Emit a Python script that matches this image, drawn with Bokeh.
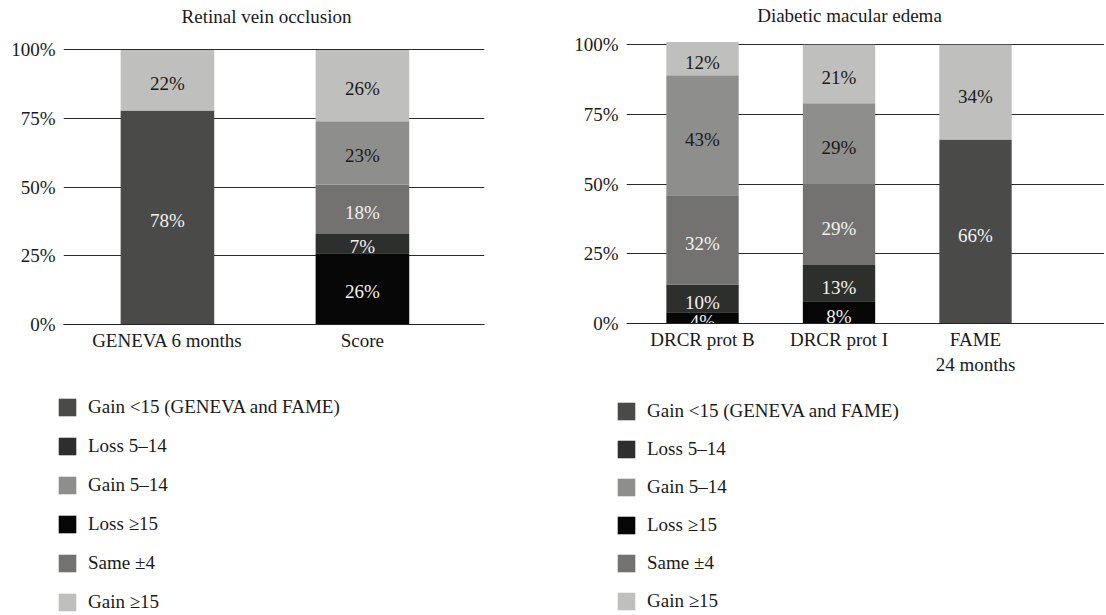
from bokeh.plotting import figure
from bokeh.models import (Range1d, FixedTicker, PrintfTickFormatter, Legend,
                          LegendItem, ColumnDataSource)
from bokeh.layouts import row, column
from bokeh.embed import file_html
from bokeh.resources import INLINE
from bokeh.core.properties import value

FONT = "Liberation Serif"
TEXT = "#1a1a1a"

# ---------------- data ----------------
rvo_title = "Retinal vein occlusion"
rvo_categories = ["GENEVA 6 months", "Score"]
rvo_loss_ge15 = [0, 26]
rvo_loss_5_14 = [0, 7]
rvo_gain_lt15 = [78, 0]
rvo_same = [0, 18]
rvo_gain_5_14 = [0, 23]
rvo_gain_ge15 = [22, 26]

dme_title = "Diabetic macular edema"
dme_categories = ["DRCR prot B", "DRCR prot I", "FAME\n24 months"]
dme_loss_ge15 = [4, 8, 0]
dme_loss_5_14 = [10, 13, 0]
dme_gain_lt15 = [0, 0, 66]
dme_same = [32, 29, 0]
dme_gain_5_14 = [43, 29, 0]
dme_gain_ge15 = [12, 21, 34]

y_ticks = [0, 25, 50, 75, 100]

# series names
S_GAIN_LT15 = "Gain <15 (GENEVA and FAME)"
S_LOSS_5_14 = "Loss 5–14"
S_GAIN_5_14 = "Gain 5–14"
S_LOSS_GE15 = "Loss ≥15"
S_SAME = "Same ±4"
S_GAIN_GE15 = "Gain ≥15"

legend_order = [S_GAIN_LT15, S_LOSS_5_14, S_GAIN_5_14, S_LOSS_GE15, S_SAME, S_GAIN_GE15]
stack_order = [S_LOSS_GE15, S_LOSS_5_14, S_GAIN_LT15, S_SAME, S_GAIN_5_14, S_GAIN_GE15]

colors = {
    S_GAIN_LT15: "#4a4b49",
    S_LOSS_5_14: "#2d2f2c",
    S_GAIN_5_14: "#8e8e8c",
    S_LOSS_GE15: "#060606",
    S_SAME: "#737270",
    S_GAIN_GE15: "#bfbfbd",
}
label_colors = {
    S_GAIN_LT15: "#f2f2f2",
    S_LOSS_5_14: "#f2f2f2",
    S_GAIN_5_14: TEXT,
    S_LOSS_GE15: "#f2f2f2",
    S_SAME: "#f2f2f2",
    S_GAIN_GE15: TEXT,
}

rvo_values = {S_LOSS_GE15: rvo_loss_ge15, S_LOSS_5_14: rvo_loss_5_14,
              S_GAIN_LT15: rvo_gain_lt15, S_SAME: rvo_same,
              S_GAIN_5_14: rvo_gain_5_14, S_GAIN_GE15: rvo_gain_ge15}
dme_values = {S_LOSS_GE15: dme_loss_ge15, S_LOSS_5_14: dme_loss_5_14,
              S_GAIN_LT15: dme_gain_lt15, S_SAME: dme_same,
              S_GAIN_5_14: dme_gain_5_14, S_GAIN_GE15: dme_gain_ge15}


def blank_fig(width, height, **borders):
    f = figure(width=width, height=height, x_range=Range1d(0, width),
               y_range=Range1d(0, 1), x_axis_type=None, y_axis_type=None,
               output_backend="svg", toolbar_location=None,
               min_border_left=borders.get("left", 0),
               min_border_right=borders.get("right", 0),
               min_border_top=borders.get("top", 0),
               min_border_bottom=borders.get("bottom", 0))
    f.frame_align = False
    f.outline_line_color = None
    f.background_fill_color = None
    f.border_fill_color = None
    return f


def title_fig(text, width, height, center):
    f = blank_fig(width, height)
    f.text(x=[center], y=[0.5], text=[text], text_font=value(FONT),
           text_font_size="19px", text_color=TEXT, text_align="center",
           text_baseline="middle")
    return f


def chart_fig(cats, vals, x_range, y_end, bar_w, width, height,
              b_left, b_right, b_top, b_bottom, label_dy):
    n = len(cats)
    xs = list(range(1, n + 1))
    p = figure(width=width, height=height,
               x_range=Range1d(*x_range), y_range=Range1d(0, y_end),
               output_backend="svg", toolbar_location=None,
               min_border_left=b_left, min_border_right=b_right,
               min_border_top=b_top, min_border_bottom=b_bottom)
    p.outline_line_color = None
    p.border_fill_color = None

    bottoms = [0] * n
    lx, ly, lt, lc = [], [], [], []
    for key in stack_order:
        v = vals[key]
        tops = [b + x for b, x in zip(bottoms, v)]
        src = ColumnDataSource(dict(x=xs, bottom=bottoms, top=tops))
        p.vbar(x="x", bottom="bottom", top="top", width=bar_w, source=src,
               fill_color=colors[key], line_color=None)
        for i in range(n):
            if v[i] > 0:
                lx.append(xs[i])
                ly.append(bottoms[i] + v[i] / 2)
                lt.append(f"{v[i]}%")
                lc.append(label_colors[key])
        bottoms = tops

    p.text(x=lx, y=ly, text=lt, text_color=lc, text_font=value(FONT),
           text_font_size="19px", text_align="center", text_baseline="middle",
           y_offset=label_dy)

    p.xaxis.ticker = FixedTicker(ticks=xs)
    p.xaxis.major_label_overrides = {x: c for x, c in zip(xs, cats)}
    p.xaxis.major_tick_line_color = None
    p.xaxis.major_tick_out = 0
    p.xaxis.major_tick_in = 0
    p.xaxis.minor_tick_line_color = None
    p.xaxis.axis_line_color = "#222222"
    p.xaxis.axis_line_width = 1.2
    p.xaxis.major_label_text_font = FONT
    p.xaxis.major_label_text_font_size = "19px"
    p.xaxis.major_label_text_color = TEXT
    p.xaxis.major_label_standoff = 5

    p.yaxis.ticker = FixedTicker(ticks=y_ticks)
    p.yaxis.formatter = PrintfTickFormatter(format="%d%%")
    p.yaxis.axis_line_color = None
    p.yaxis.major_tick_line_color = None
    p.yaxis.major_tick_out = 0
    p.yaxis.major_tick_in = 0
    p.yaxis.minor_tick_line_color = None
    p.yaxis.major_label_text_font = FONT
    p.yaxis.major_label_text_font_size = "19px"
    p.yaxis.major_label_text_color = TEXT
    p.yaxis.major_label_standoff = 8

    p.xgrid.grid_line_color = None
    p.ygrid.ticker = FixedTicker(ticks=[t for t in y_ticks if t > 0])
    p.ygrid.grid_line_color = "#2a2a2a"
    p.ygrid.grid_line_width = 1
    return p


def legend_fig(width, height, left, top, spacing):
    f = blank_fig(width, height, left=left, top=top)
    items = []
    for key in legend_order:
        # zero-height proxy bar: only supplies the legend swatch style
        r = f.vbar(x=[0], bottom=[0], top=[0], width=0.01,
                   fill_color=colors[key], line_color=None)
        items.append(LegendItem(label=key, renderers=[r]))
    legend = Legend(items=items, location="top_left", orientation="vertical",
                    glyph_width=22, glyph_height=22, label_standoff=10,
                    spacing=spacing, padding=0, margin=0, label_height=22,
                    border_line_color=None, background_fill_alpha=0,
                    label_text_font=FONT, label_text_font_size="19px",
                    label_text_color=TEXT)
    f.add_layout(legend)
    return f


left_col = column(
    title_fig(rvo_title, 560, 32, center=266),
    chart_fig(rvo_categories, rvo_values, x_range=(0.467, 2.626), y_end=102,
              bar_w=0.48, width=560, height=353, b_left=63, b_right=76,
              b_top=12, b_bottom=61, label_dy=3),
    legend_fig(560, 229, left=56, top=11, spacing=17),
    spacing=0)

right_col = column(
    title_fig(dme_title, 544, 30, center=289),
    chart_fig(dme_categories, dme_values, x_range=(0.443, 3.945), y_end=101.5,
              bar_w=0.53, width=544, height=355, b_left=66, b_right=0,
              b_top=10, b_bottom=62, label_dy=4),
    legend_fig(544, 229, left=55, top=15, spacing=16),
    spacing=0)

layout = row(left_col, right_col, spacing=0)
open("out.html", "w").write(file_html(layout, INLINE))
